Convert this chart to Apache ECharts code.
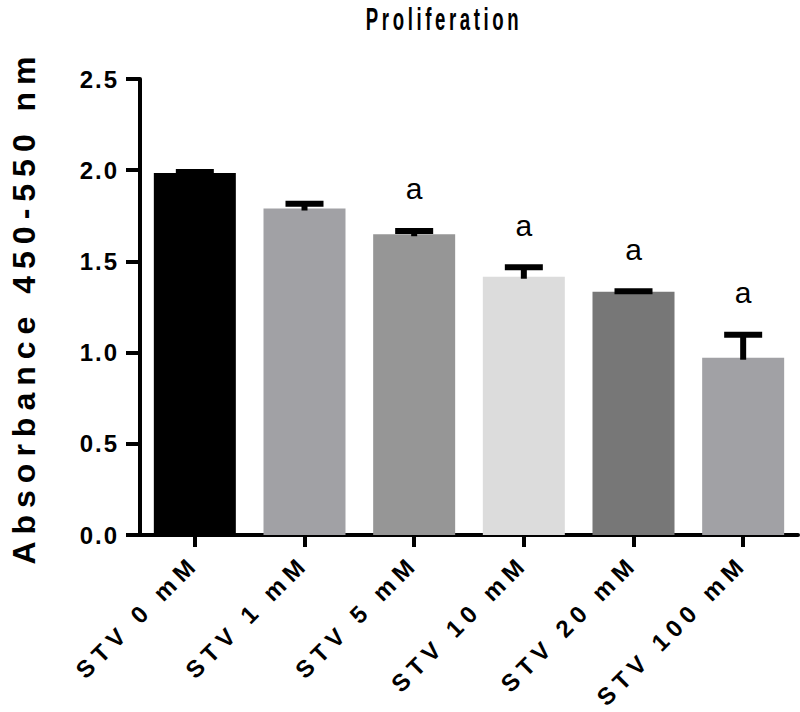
<!DOCTYPE html>
<html>
<head>
<meta charset="utf-8">
<script src="https://cdn.jsdelivr.net/npm/echarts@6/dist/echarts.min.js"></script>
<style>
  html, body { margin: 0; padding: 0; background: #fff; }
  #main { width: 800px; height: 712px; }
</style>
</head>
<body>
<div id="main"></div>
<script>
const categories = ['STV 0 mM', 'STV 1 mM', 'STV 5 mM', 'STV 10 mM', 'STV 20 mM', 'STV 100 mM'];
const means = [1.985, 1.790, 1.649, 1.416, 1.334, 0.972];
const sems = [0.005, 0.026, 0.018, 0.052, 0.002, 0.126];
const sigLabels = ['', '', 'a', 'a', 'a', 'a'];
const barColors = ['#000000', '#a1a1a5', '#969696', '#dcdcdc', '#777777', '#a1a1a5'];
const yTicks = [0, 0.5, 1.0, 1.5, 2.0, 2.5];
const chartTitle = 'Proliferation';
const yAxisTitle = 'Absorbance 450-550 nm';

const FONT = "'Liberation Sans', Arial, Helvetica, sans-serif";

const chart = echarts.init(document.getElementById('main'), null, { renderer: 'svg' });

const option = {
  animation: false,
  backgroundColor: '#ffffff',
  graphic: [
    {
      type: 'text',
      x: 444,
      y: 19,
      scaleX: 0.6,
      style: {
        text: chartTitle,
        align: 'center',
        verticalAlign: 'middle',
        font: 'bold 31px ' + FONT,
        fill: '#000'
      }
    }
  ],
  grid: { left: 113, right: 2, top: 79, bottom: 177, containLabel: false },
  xAxis: {
    type: 'category',
    data: categories,
    boundaryGap: true,
    axisLine: { show: true, lineStyle: { color: '#000', width: 4 } },
    axisTick: { show: true, alignWithLabel: true, length: 12, lineStyle: { color: '#000', width: 4 } },
    axisLabel: {
      rotate: 45,
      margin: 24,
      interval: 0,
      color: '#000',
      fontFamily: FONT,
      fontWeight: 'bold',
      fontSize: 24
    },
    splitLine: { show: false }
  },
  yAxis: {
    type: 'value',
    min: yTicks[0],
    max: yTicks[yTicks.length - 1],
    interval: 0.5,
    name: yAxisTitle,
    nameLocation: 'middle',
    nameGap: 100,
    nameTextStyle: { fontFamily: FONT, fontWeight: 'bold', fontSize: 32, color: '#000' },
    axisLine: { show: true, lineStyle: { color: '#000', width: 4 } },
    axisTick: { show: true, length: 14, lineStyle: { color: '#000', width: 4 } },
    axisLabel: {
      margin: 21,
      color: '#000',
      fontFamily: FONT,
      fontWeight: 'bold',
      fontSize: 24,
      formatter: v => v.toFixed(1)
    },
    splitLine: { show: false }
  },
  series: [
    {
      type: 'bar',
      barWidth: 82,
      data: means.map((v, i) => ({ value: v, itemStyle: { color: barColors[i] } })),
      z: 2
    },
    {
      type: 'custom',
      z: 5,
      data: means.map((v, i) => [i, v, sems[i]]),
      renderItem: function (params, api) {
        const i = api.value(0);
        const m = api.value(1);
        const e = api.value(2);
        const base = api.coord([i, m]);
        const top = api.coord([i, m + e]);
        const children = [
          { type: 'line', shape: { x1: top[0], y1: base[1] + 2, x2: top[0], y2: top[1] }, style: { stroke: '#000', lineWidth: 6 } },
          { type: 'line', shape: { x1: top[0] - 19, y1: top[1], x2: top[0] + 19, y2: top[1] }, style: { stroke: '#000', lineWidth: 6 } }
        ];
        if (sigLabels[i]) {
          children.push({
            type: 'text',
            x: top[0],
            y: top[1] - 42,
            style: { text: sigLabels[i], align: 'center', verticalAlign: 'middle', font: '30px ' + FONT, fill: '#000' }
          });
        }
        return { type: 'group', children: children };
      }
    }
  ]
};

chart.setOption(option);

function applySpacing() {
  document.querySelectorAll('#main svg text').forEach(t => {
    const s = t.textContent;
    let ls = null;
    if (s === chartTitle) ls = 6;
    else if (s === yAxisTitle) ls = 7;
    else if (s.indexOf('STV') === 0) ls = 6;
    else if (/^\d\.\d$/.test(s)) ls = 2;
    if (ls !== null) t.style.letterSpacing = ls + 'px';
  });
}
chart.on('finished', applySpacing);
setTimeout(applySpacing, 0);
setTimeout(applySpacing, 50);
requestAnimationFrame(() => requestAnimationFrame(applySpacing));
</script>
</body>
</html>
